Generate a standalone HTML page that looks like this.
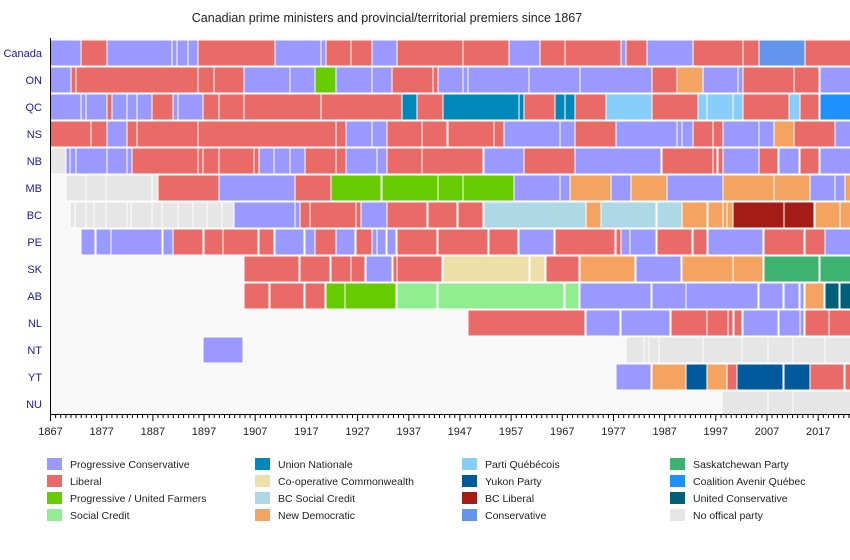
<!DOCTYPE html>
<html><head><meta charset="utf-8"><style>
body{margin:0;background:#fff;width:850px;height:555px;overflow:hidden;font-family:"Liberation Sans",sans-serif}
svg text{font-family:"Liberation Sans",sans-serif}
</style></head><body>
<svg id="s" width="850" height="555" xmlns="http://www.w3.org/2000/svg">
<rect x="0" y="0" width="850" height="555" fill="#fff"/>
<rect x="50" y="38" width="800" height="376" fill="#f8f8f8"/>
<text x="387" y="22" font-size="12.5" text-anchor="middle" fill="#222">Canadian prime ministers and provincial/territorial premiers since 1867</text>
</svg>
<script>
var C={P:"#9999ff",L:"#ea6a67",G:"#66cc00",S:"#90ee90",U:"#0088bb",F:"#eedfa8",B:"#add8e6",N:"#f4a460",Q:"#87cefa",Y:"#005a9c",R:"#a51c16",K:"#6495ed",W:"#3cb371",A:"#1e90ff",V:"#005f7a",X:"#e6e6e6"};
var rows=[
["Canada","P50-80 L81-106 P107-172 P172-177 P177-187 P188-197 L198-274 P275-320 P321-325 L326-350 L351-371 P372-396 L397-462 L463-508 P509-539 L540-564 L565-620 P621-625 L626-646 P647-692 L693-742 L743-758 K759-804 L805-850"],
["ON","P50-70 L71-75 L76-197 L198-213 L214-243 P244-289 P290-314 G315-335 P336-371 P372-391 L392-432 L433-437 P438-462 P463-467 P468-528 P529-579 P580-651 L652-676 N677-702 P703-737 P738-742 L743-793 L794-818 P820-850"],
["QC","P50-80 P81-85 P86-106 L107-111 P112-126 P127-136 P137-151 L152-172 P173-177 P178-202 L203-218 L219-243 L244-320 L321-401 U402-416 L417-442 U443-518 U519-523 L524-554 U555-564 U565-574 L575-605 Q606-651 L652-697 Q698-706 Q707-732 Q733-742 L743-788 Q789-799 L800-818 A820-850"],
["NS","L50-90 L91-106 P107-126 L127-136 L137-197 L198-335 L336-345 P346-371 P372-386 L387-421 L422-446 L447-447 L448-493 L494-503 P504-559 P560-574 L575-615 P616-676 P677-681 P682-692 L693-712 L713-722 P723-758 P759-773 N774-793 L794-834 P835-850"],
["NB","X50-65 P66-69 P70-75 P76-106 P107-126 P127-131 L132-197 L198-202 L203-218 L219-253 L254-258 P259-273 P274-289 P290-304 L305-335 L336-345 P346-376 P377-386 L387-421 L422-482 P484-523 L524-574 P575-660 L662-712 L713-716 L718-722 P723-758 L759-777 P779-798 L800-818 P820-850"],
["MB","X66-86 X86-106 X106-152 X152-157 L158-218 P219-294 L295-330 G331-380 G382-437 G438-462 G463-513 P514-559 P560-569 N570-610 P611-630 N631-666 P667-722 N723-773 N774-809 P810-834 P835-844 N845-850"],
["BC","X70-75 X75-86 X86-94 X94-106 X106-127 X127-131 X131-152 X152-162 X162-178 X178-193 X193-207 X207-222 X222-233 P234-294 P295-299 L300-309 L310-355 L356-360 P361-386 L387-426 L428-456 L458-482 B484-585 N586-600 B601-655 B657-681 N682-706 N708-722 N723-726 N727-732 R733-783 R784-813 N815-839 N840-850"],
["PE","P81-94 P96-110 P111-161 P163-172 L173-202 L204-222 L223-257 L259-273 P275-303 P305-314 L315-335 P336-354 L356-371 P372-376 P377-385 P387-395 L397-436 L438-487 L489-517 P519-553 L555-614 L616-620 P621-629 P630-655 L657-691 L693-706 P708-762 L764-803 L805-824 P825-850"],
["SK","L244-298 L300-329 L331-350 L351-364 P366-391 L393-396 L397-441 F443-528 F530-544 L546-578 N580-634 P636-680 N682-732 N733-762 W764-818 W820-850"],
["AB","L244-268 L270-303 L305-324 G326-344 G345-395 S397-436 S438-563 S565-578 P580-650 P652-685 P686-757 P759-782 P784-798 P800-803 N805-823 V825-838 V840-850"],
["NL","L468-584 P586-619 P621-669 L671-706 L707-727 L728-732 L734-741 P743-777 P779-799 P800-803 L805-828 L829-850"],
["NT","P203-242 X626-644 X644-649 X649-659 X659-703 X703-742 X742-768 X768-793 X793-825 X825-850"],
["YT","P616-650 N652-685 Y686-706 N707-726 L727-736 Y737-782 Y784-809 L810-843 L845-850"],
["NU","X722-768 X768-793 X793-850"]];
var s=document.getElementById('s'),h='';
rows.forEach(function(r,i){
 var y=40+i*27, hh=(i==13)?24:26;
 h+='<text x="42" y="'+(y+17)+'" font-size="11" text-anchor="end" fill="#1a1aa6">'+r[0]+'</text>';
 r[1].split(' ').forEach(function(t){
  var c=C[t[0]],p=t.slice(1).split('-'),a=+p[0],b=+p[1];
  h+='<rect x="'+a+'" y="'+y+'" width="'+Math.max(1,b-a+1)+'" height="'+hh+'" fill="'+c+'" stroke="#fff" stroke-width="1"/>';
 });
});
h+='<line x1="50.5" y1="38" x2="50.5" y2="414" stroke="#000"/>';
h+='<line x1="50" y1="414.5" x2="850" y2="414.5" stroke="#000"/>';
for(var yr=1867;yr<=2023;yr++){
 var x=50.5+(yr-1867)*5.118;
 var maj=(yr-1867)%10==0;
 h+='<line x1="'+x.toFixed(1)+'" y1="414" x2="'+x.toFixed(1)+'" y2="'+(maj?421:418)+'" stroke="#000" stroke-width="1"/>';
 if(maj)h+='<text x="'+x.toFixed(1)+'" y="435" font-size="11" text-anchor="middle" fill="#222">'+yr+'</text>';
}
var leg=[["P","Progressive Conservative"],["L","Liberal"],["G","Progressive / United Farmers"],["S","Social Credit"],
["U","Union Nationale"],["F","Co-operative Commonwealth"],["B","BC Social Credit"],["N","New Democratic"],
["Q","Parti Québécois"],["Y","Yukon Party"],["R","BC Liberal"],["K","Conservative"],
["W","Saskatchewan Party"],["A","Coalition Avenir Québec"],["V","United Conservative"],["X","No offical party"]];
var cx=[47,255,462,670];
leg.forEach(function(l,i){
 var col=Math.floor(i/4),row=i%4,x=cx[col],y=458+row*17;
 h+='<rect x="'+x+'" y="'+y+'" width="15" height="12" fill="'+C[l[0]]+'"/>';
 h+='<text x="'+(x+23)+'" y="'+(y+10)+'" font-size="10.5" fill="#222">'+l[1]+'</text>';
});
s.insertAdjacentHTML('beforeend',h);
</script>
</body></html>
